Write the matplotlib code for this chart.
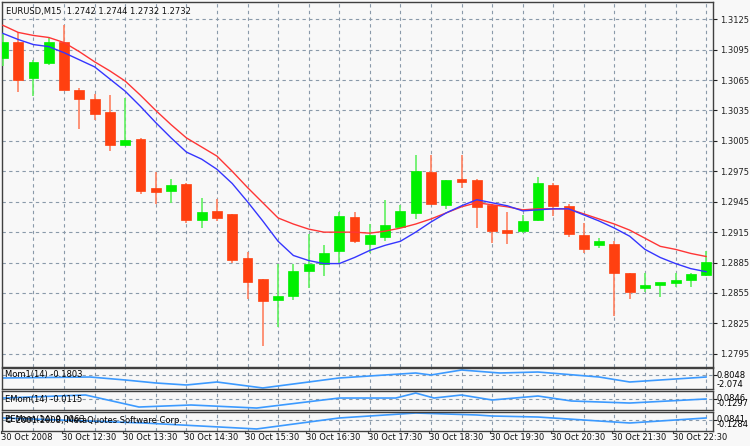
import numpy as np
import matplotlib
matplotlib.use('Agg')
import matplotlib.pyplot as plt

# EURUSD M15 candles (open, high, low, close)
opens = [1.3087, 1.3103, 1.3067, 1.3082, 1.3103, 1.3055, 1.3046, 1.3034, 1.3001, 1.3007,
         1.2959, 1.2956, 1.2962, 1.2927, 1.2936, 1.2933, 1.2890, 1.2869, 1.2848, 1.2852,
         1.2877, 1.2884, 1.2896, 1.2930, 1.2903, 1.2910, 1.2920, 1.2934, 1.2974, 1.2942,
         1.2966, 1.2966, 1.2942, 1.2917, 1.2916, 1.2927, 1.2962, 1.2941, 1.2912, 1.2903,
         1.2903, 1.2875, 1.2860, 1.2864, 1.2865, 1.2868, 1.2873]
highs = [1.3111, 1.3112, 1.3085, 1.3107, 1.3119, 1.3057, 1.3051, 1.3050, 1.3047, 1.3008,
         1.2974, 1.2967, 1.2963, 1.2949, 1.2948, 1.2933, 1.2895, 1.2869, 1.2884, 1.2884,
         1.2913, 1.2902, 1.2935, 1.2935, 1.2923, 1.2947, 1.2942, 1.2991, 1.2991, 1.2966,
         1.2991, 1.2967, 1.2943, 1.2935, 1.2932, 1.2969, 1.2963, 1.2943, 1.2924, 1.2909,
         1.2906, 1.2875, 1.2875, 1.2865, 1.2875, 1.2875, 1.2896]
lows = [1.3079, 1.3053, 1.3049, 1.3080, 1.3055, 1.3017, 1.3026, 1.2995, 1.3001, 1.2953,
        1.2943, 1.2944, 1.2924, 1.2919, 1.2926, 1.2885, 1.2849, 1.2803, 1.2821, 1.2848,
        1.2860, 1.2872, 1.2884, 1.2904, 1.2894, 1.2906, 1.2920, 1.2928, 1.2943, 1.2938,
        1.2959, 1.2919, 1.2904, 1.2903, 1.2914, 1.2926, 1.2931, 1.2910, 1.2894, 1.2899,
        1.2832, 1.2849, 1.2856, 1.2851, 1.2861, 1.2861, 1.2872]
closes = [1.3103, 1.3065, 1.3083, 1.3103, 1.3055, 1.3046, 1.3032, 1.3001, 1.3006, 1.2956,
          1.2955, 1.2962, 1.2927, 1.2935, 1.2929, 1.2888, 1.2866, 1.2847, 1.2852, 1.2877,
          1.2884, 1.2894, 1.2931, 1.2906, 1.2912, 1.2922, 1.2936, 1.2975, 1.2943, 1.2966,
          1.2965, 1.2940, 1.2916, 1.2914, 1.2926, 1.2963, 1.2941, 1.2913, 1.2898, 1.2905,
          1.2875, 1.2856, 1.2863, 1.2865, 1.2868, 1.2874, 1.2886]

# moving averages
ma_slow = [1.3119, 1.3112, 1.3109, 1.3107, 1.3102, 1.3093, 1.3083, 1.3074, 1.3064, 1.3050,
           1.3035, 1.3021, 1.3008, 1.2999, 1.2990, 1.2975, 1.2959, 1.2944, 1.2929, 1.2923,
           1.2918, 1.2915, 1.2915, 1.2915, 1.2914, 1.2916, 1.2919, 1.2923, 1.2928, 1.2934,
           1.2940, 1.2944, 1.2942, 1.2940, 1.2937, 1.2938, 1.2938, 1.2938, 1.2933, 1.2928,
           1.2923, 1.2917, 1.2909, 1.2901, 1.2898, 1.2894, 1.2891]
ma_fast = [1.3111, 1.3105, 1.3100, 1.3098, 1.3092, 1.3085, 1.3078, 1.3066, 1.3054, 1.3039,
           1.3023, 1.3008, 1.2994, 1.2987, 1.2977, 1.2963, 1.2945, 1.2926, 1.2906, 1.2892,
           1.2887, 1.2884, 1.2884, 1.2890, 1.2897, 1.2902, 1.2906, 1.2915, 1.2925, 1.2934,
           1.2941, 1.2947, 1.2944, 1.2941, 1.2936, 1.2937, 1.2938, 1.2938, 1.2932, 1.2926,
           1.2919, 1.2911, 1.2898, 1.2890, 1.2884, 1.2879, 1.2876]

# indicator sub-windows (bar position, value)
mom1_x = [0, 5.7, 8, 10, 12, 14, 17, 20, 22, 27, 28, 30, 32.5, 35, 39, 41, 43, 46]
mom1_y = [-0.64, -0.43, -1.07, -1.71, -2.14, -1.5, -2.78, -1.5, -0.64, 0.43, 0.0, 1.07,
          0.43, 0.64, -0.43, -1.5, -1.07, -0.43]
emom_x = [0, 5.4, 8.9, 12.3, 16.6, 22, 25.7, 27, 28.2, 30, 32, 35, 37.2, 41, 46]
emom_y = [0.009, 0.057, -0.133, -0.101, -0.149, 0.009, 0.009, 0.088, 0.009, 0.057,
          -0.022, 0.041, -0.038, -0.07, -0.006]
eemom_x = [0, 9.2, 16.6, 22, 27, 31, 32, 35, 41, 46]
eemom_y = [0.032, -0.042, -0.13, 0.032, 0.105, 0.076, 0.061, 0.046, -0.042, 0.032]

price_ticks = [1.2795, 1.2825, 1.2855, 1.2885, 1.2915, 1.2945, 1.2975, 1.3005, 1.3035,
               1.3065, 1.3095, 1.3125]
time_labels = ['30 Oct 2008', '30 Oct 12:30', '30 Oct 13:30', '30 Oct 14:30', '30 Oct 15:30',
               '30 Oct 16:30', '30 Oct 17:30', '30 Oct 18:30', '30 Oct 19:30', '30 Oct 20:30',
               '30 Oct 21:30', '30 Oct 22:30']

W, H = 750, 446
bg = '#f8f8f8'
grid_c = '#8a9aaa'
up_c = '#00f000'
dn_c = '#ff4010'
fs = 6.0

fig = plt.figure(figsize=(W / 100, H / 100), dpi=100, facecolor=bg)


def make_ax(top, bottom):
    ax = fig.add_axes([2 / W, 1 - bottom / H, 711 / W, (bottom - top) / H], facecolor=bg)
    ax.set_xlim(-0.06, 46.45)
    for s in ax.spines.values():
        s.set_color('#404040')
        s.set_linewidth(1.0)
    ax.tick_params(axis='x', bottom=False, labelbottom=False)
    ax.yaxis.tick_right()
    ax.tick_params(axis='y', length=3, labelsize=fs, pad=2, colors='#202020')
    ax.set_xticks(np.arange(2, 47, 2))
    ax.grid(True, color=grid_c, linestyle=(0, (3, 3)), linewidth=0.8)
    return ax


n = len(opens)
idx = np.arange(n)

ax = make_ax(2, 367)
ax.set_ylim(1.2782, 1.3142)
ax.set_yticks(price_ticks)
ax.set_yticklabels([f'{p:.4f}' for p in price_ticks])
for i in idx:
    up = closes[i] >= opens[i]
    c = up_c if up else dn_c
    wc = '#60f060' if up else '#ff8060'
    ax.vlines(i, lows[i], highs[i], color=wc, linewidth=1.2, zorder=3)
    lo, hi = min(opens[i], closes[i]), max(opens[i], closes[i])
    if hi - lo < 0.00025:
        lo -= 0.0001
        hi += 0.0001
    ax.bar(i, hi - lo, bottom=lo, width=0.65, color=c, edgecolor=c, linewidth=0.5, zorder=4)
ax.plot(idx, ma_slow, color='#ff3535', linewidth=1.0, zorder=5)
ax.plot(idx, ma_fast, color='#3535ff', linewidth=1.0, zorder=5)
ax.text(0.006, 0.985, 'EURUSD,M15  1.2742 1.2744 1.2732 1.2732', transform=ax.transAxes,
        fontsize=fs, va='top', ha='left', color='#101010')

line_c = '#3c9aff'

ax1 = make_ax(368, 389)
ax1.set_ylim(-3.0, 1.5)
ax1.set_yticks([0.0])
ax1.set_yticklabels([''])
ax1.plot(mom1_x, mom1_y, color=line_c, linewidth=1.2)
ax1.text(0.004, 0.7, 'Mom1(14) -0.1803', transform=ax1.transAxes, fontsize=fs, va='center')
ax1.text(1.005, 0.65, '0.8048', transform=ax1.transAxes, fontsize=fs, va='center')
ax1.text(1.005, 0.2, '-2.074', transform=ax1.transAxes, fontsize=fs, va='center')

ax2 = make_ax(391, 410)
ax2.set_ylim(-0.18, 0.12)
ax2.set_yticks([0.0])
ax2.set_yticklabels([''])
ax2.plot(emom_x, emom_y, color=line_c, linewidth=1.2)
ax2.text(0.004, 0.55, 'EMom(14) -0.0115', transform=ax2.transAxes, fontsize=fs, va='center')
ax2.text(1.005, 0.6, '0.0846', transform=ax2.transAxes, fontsize=fs, va='center')
ax2.text(1.005, 0.35, '-0.1297', transform=ax2.transAxes, fontsize=fs, va='center')

ax3 = make_ax(412, 431)
ax3.set_ylim(-0.16, 0.12)
ax3.set_yticks([0.0])
ax3.set_yticklabels([''])
ax3.plot(eemom_x, eemom_y, color=line_c, linewidth=1.2)
ax3.text(0.004, 0.6, 'EEMom(14) 0.0063', transform=ax3.transAxes, fontsize=fs, va='center')
ax3.text(0.004, 0.55, '© 2001-2008, MetaQuotes Software Corp.', transform=ax3.transAxes,
         fontsize=fs, va='center')
ax3.text(1.005, 0.6, '0.0841', transform=ax3.transAxes, fontsize=fs, va='center')
ax3.text(1.005, 0.35, '-0.1284', transform=ax3.transAxes, fontsize=fs, va='center')

# time axis labels on the bottom window, one per hour (4 bars)
for k, lab in enumerate(time_labels):
    xpos = k * 4
    ax3.text(xpos - 0.15, -0.12, lab, transform=ax3.get_xaxis_transform(), fontsize=fs,
             ha='left', va='top', color='#101010')
    ax3.plot([xpos - 0.15, xpos - 0.15], [0, -0.12], transform=ax3.get_xaxis_transform(),
             color='#404040', linewidth=0.8, clip_on=False)

fig.savefig('out.png', dpi=100, facecolor=bg)
